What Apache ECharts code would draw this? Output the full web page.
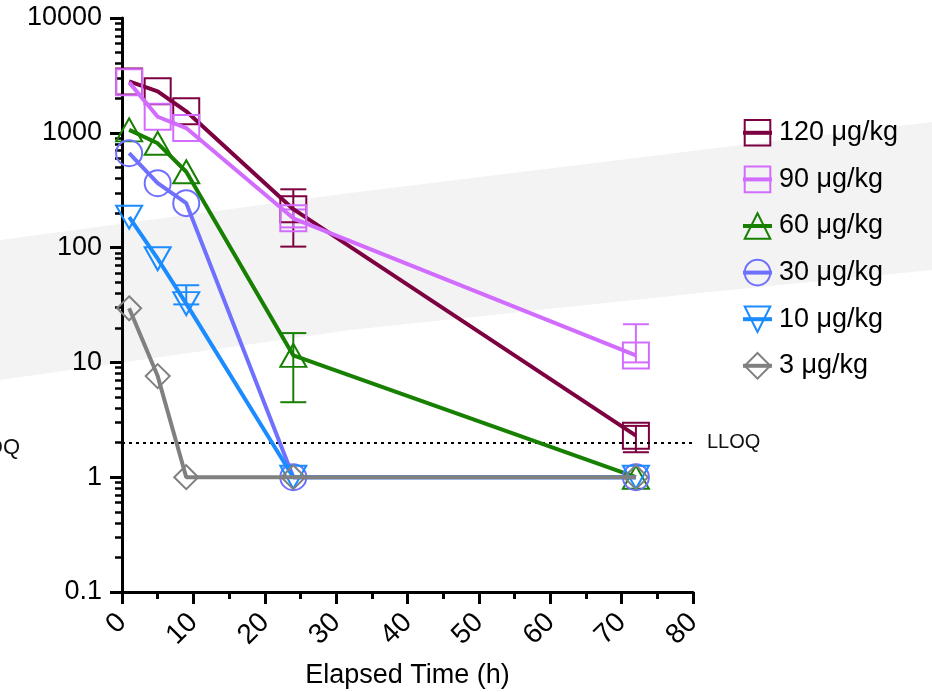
<!DOCTYPE html>
<html>
<head>
<meta charset="utf-8">
<title>Concentration vs elapsed time</title>
<script src="https://cdn.jsdelivr.net/npm/echarts@6/dist/echarts.min.js"></script>
<style>
  html, body { margin: 0; padding: 0; background: #fff; }
  #main { width: 932px; height: 692px; }
</style>
</head>
<body>
<div id="main"></div>
<script>
// sampling times (h)
var times = [1, 5, 9, 24, 72];

// mean concentration per dose group
var dose120 = [2800, 2300, 1540, 216, 2.3];
var dose90 = [2750, 1380, 1100, 180, 11.5];
var dose60 = [1060, 810, 458, 11.5, 1];
var dose30 = [664, 364, 244, 1, 1];
var dose10 = [184, 80, 32.5, 1, 1];
var dose3 = [29.6, 7.6, 1, 1, 1];

// error bars: [time, low, high]
var err120 = [[24, 102, 322], [72, 1.65, 2.8]];
var err90 = [[24, 150, 215], [72, 10, 21.5]];
var err60 = [[24, 4.5, 18]];
var err10 = [[9, 32, 47]];

var seriesNames = ['120 μg/kg', '90 μg/kg', '60 μg/kg', '30 μg/kg', '10 μg/kg', '3 μg/kg'];
var seriesColors = ['#7d0040', '#d26cff', '#178000', '#7070ff', '#1a8cff', '#808080'];

var yMajorTicks = [0.1, 1, 10, 100, 1000, 10000];
var yMinorSteps = [2, 3, 4, 5, 6, 7, 8, 9];
var lloq = 2;

var yMinorTicks = [];
for (var d = 0; d < yMajorTicks.length - 1; d++) {
  for (var k = 0; k < yMinorSteps.length; k++) {
    yMinorTicks.push(+(yMajorTicks[d] * yMinorSteps[k]).toPrecision(3));
  }
}

var font = '"Liberation Sans", Arial, sans-serif';

function pairs(vals) {
  return times.map(function (t, i) { return [t, vals[i]]; });
}

function lineSeries(idx, vals, symbol, size, rotate) {
  var c = seriesColors[idx];
  return {
    name: seriesNames[idx],
    type: 'line',
    data: pairs(vals),
    symbol: symbol,
    symbolSize: size,
    symbolRotate: rotate || 0,
    showAllSymbol: true,
    lineStyle: { color: c, width: 4 },
    itemStyle: { color: 'rgba(0,0,0,0)', borderColor: c, borderWidth: 2 },
    emphasis: { disabled: true },
    z: 3 + idx
  };
}

// vertical error bar with caps
function renderErr(params, api) {
  var top = api.coord([api.value(0), api.value(2)]);
  var bot = api.coord([api.value(0), api.value(1)]);
  var half = 13;
  var style = { stroke: api.visual('color'), lineWidth: 2 };
  return {
    type: 'group',
    children: [
      { type: 'line', shape: { x1: top[0], y1: top[1], x2: bot[0], y2: bot[1] }, style: style },
      { type: 'line', shape: { x1: top[0] - half, y1: top[1], x2: top[0] + half, y2: top[1] }, style: style },
      { type: 'line', shape: { x1: bot[0] - half, y1: bot[1], x2: bot[0] + half, y2: bot[1] }, style: style }
    ]
  };
}

function errSeries(idx, data) {
  return {
    type: 'custom',
    name: 'err' + idx,
    data: data,
    renderItem: renderErr,
    itemStyle: { color: seriesColors[idx] },
    encode: { x: 0, y: [1, 2] },
    silent: true,
    z: 2
  };
}

var s120 = lineSeries(0, dose120, 'rect', 26);
s120.markLine = {
  silent: true,
  symbol: 'none',
  lineStyle: { color: '#000', type: [3, 4], width: 2 },
  label: { show: true, position: 'end', formatter: 'LLOQ', color: '#111', fontSize: 20, fontFamily: font, distance: 14 },
  data: [{ yAxis: lloq }]
};

var chart = echarts.init(document.getElementById('main'));

var option = {
  animation: false,
  backgroundColor: '#fff',
  textStyle: { fontFamily: font },
  graphic: [
    {
      type: 'polygon',
      z: -10,
      silent: true,
      shape: {
        points: [[0, 240], [350, 193], [700, 150], [932, 122], [932, 270], [700, 293], [350, 330], [0, 380]]
      },
      style: { fill: '#f3f3f3' }
    },
    {
      type: 'text',
      right: 912,
      top: 437,
      style: { text: 'LLOQ', fontSize: 22, fill: '#111', fontFamily: font }
    }
  ],
  grid: { left: 122, right: 239, top: 18, bottom: 100, outerBoundsMode: 'none', containLabel: false },
  legend: {
    orient: 'vertical',
    left: 736,
    top: 114,
    itemWidth: 29,
    itemHeight: 32,
    itemGap: 19,
    data: seriesNames,
    selectedMode: false,
    lineStyle: { width: 4 },
    textStyle: { fontSize: 27, color: '#000', fontFamily: font, padding: [0, 0, 0, 2] }
  },
  xAxis: {
    type: 'value',
    min: 0,
    max: 80,
    interval: 10,
    name: 'Elapsed Time (h)',
    nameLocation: 'middle',
    nameGap: 70,
    nameTextStyle: { fontSize: 27, color: '#000', fontFamily: font },
    axisLine: { onZero: false, lineStyle: { color: '#000', width: 3 } },
    axisTick: { length: 12, lineStyle: { color: '#000', width: 3 } },
    minorTick: { show: true, splitNumber: 2, length: 7, lineStyle: { color: '#000', width: 3 } },
    axisLabel: { rotate: 45, fontSize: 28, color: '#000', margin: 26, fontFamily: font },
    splitLine: { show: false },
    minorSplitLine: { show: false }
  },
  yAxis: [
    {
      type: 'log',
      logBase: 10,
      min: 0.1,
      max: 10000,
      axisLine: { show: true, lineStyle: { color: '#000', width: 3 } },
      axisTick: { show: true, length: 12, lineStyle: { color: '#000', width: 3 }, customValues: yMajorTicks },
      axisLabel: { fontSize: 27, color: '#000', margin: 20, fontFamily: font, customValues: yMajorTicks,
        formatter: function (v) { return String(v); } },
      splitLine: { show: false }
    },
    {
      type: 'log',
      logBase: 10,
      min: 0.1,
      max: 10000,
      position: 'left',
      axisLine: { show: false },
      axisTick: { show: true, length: 7, lineStyle: { color: '#000', width: 2.5 }, customValues: yMinorTicks },
      axisLabel: { show: false },
      splitLine: { show: false }
    }
  ],
  series: [
    errSeries(0, err120),
    errSeries(1, err90),
    errSeries(2, err60),
    errSeries(4, err10),
    s120,
    lineSeries(1, dose90, 'rect', 26),
    lineSeries(2, dose60, 'triangle', [26, 23]),
    lineSeries(3, dose30, 'circle', 26),
    lineSeries(4, dose10, 'triangle', [26, 23], 180),
    lineSeries(5, dose3, 'diamond', 24)
  ]
};

chart.setOption(option);
</script>
</body>
</html>
